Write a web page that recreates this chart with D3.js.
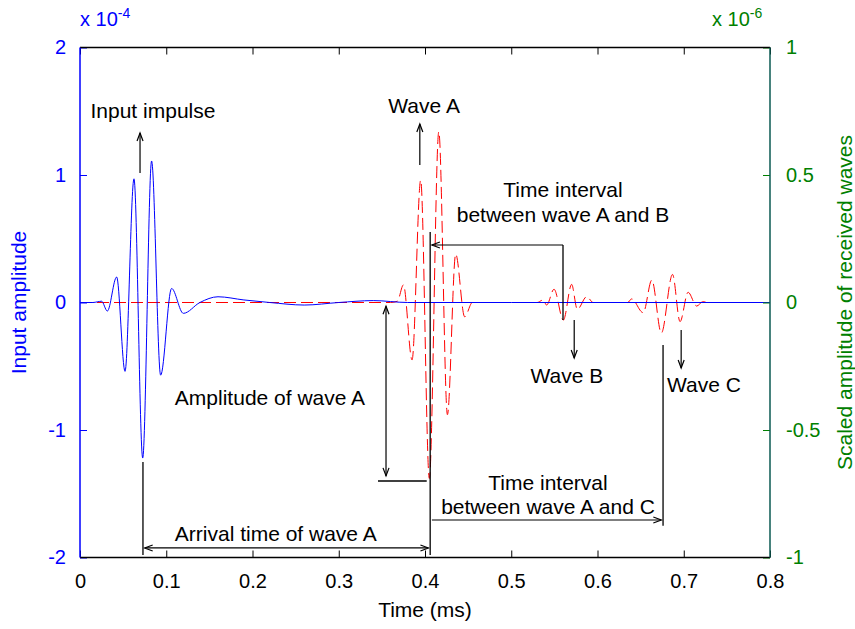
<!DOCTYPE html>
<html>
<head>
<meta charset="utf-8">
<script src="https://cdn.jsdelivr.net/npm/d3@7"></script>
<style>
  body { margin: 0; background: #fff; }
  text { font-family: "Liberation Sans", Arial, sans-serif; }
</style>
</head>
<body>
<div id="chart"></div>
<script>
// input impulse (x 1e-4)
var inputTime = [0, 0.015, 0.020, 0.025, 0.0317, 0.0425, 0.0522, 0.0626, 0.0727, 0.083, 0.0935, 0.1062, 0.1198, 0.139, 0.16, 0.19, 0.22, 0.26, 0.30, 0.34, 0.38, 0.5, 0.8];
var inputAmp  = [0, 0, 0.005, 0.01, -0.067, 0.20, -0.54, 0.97, -1.22, 1.11, -0.57, 0.11, -0.085, 0.0, 0.045, 0.02, 0.0, -0.02, 0.0, 0.015, 0.0, 0, 0];

// received waves (x 1e-6)
var recvTime = [0, 0.36, 0.368, 0.375, 0.385, 0.395, 0.405, 0.416, 0.426, 0.4356, 0.446, 0.455, 0.53, 0.537, 0.541, 0.5496, 0.5604, 0.570, 0.5766, 0.5875, 0.595, 0.635, 0.6395, 0.653, 0.663, 0.674, 0.687, 0.6957, 0.705, 0.715, 0.722, 0.73, 0.8];
var recvAmp  = [0, 0, 0.005, 0.069, -0.225, 0.48, -0.69, 0.67, -0.44, 0.19, -0.056, 0.0, 0, 0.01, -0.01, 0.052, -0.069, 0.071, -0.027, 0.023, 0, 0, 0.014, -0.04, 0.088, -0.12, 0.11, -0.075, 0.04, -0.014, 0.003, 0, 0];

var xTicks = [0, 0.1, 0.2, 0.3, 0.4, 0.5, 0.6, 0.7, 0.8];
var leftTicks = [-2, -1, 0, 1, 2];
var rightTicks = [-1, -0.5, 0, 0.5, 1];

// annotations in (time, left-axis) units
var arrowLines = [
  {x1: 0.0696, y1: 1.016, x2: 0.0696, y2: 1.33, both: false},
  {x1: 0.394, y1: 1.078, x2: 0.394, y2: 1.40, both: false},
  {x1: 0.560, y1: 0.451, x2: 0.408, y2: 0.451, both: false},
  {x1: 0.573, y1: -0.137, x2: 0.573, y2: -0.435, both: false},
  {x1: 0.697, y1: -0.216, x2: 0.697, y2: -0.514, both: false},
  {x1: 0.3548, y1: -0.03, x2: 0.3548, y2: -1.36, both: true},
  {x1: 0.075, y1: -1.925, x2: 0.404, y2: -1.925, both: true},
  {x1: 0.408, y1: -1.706, x2: 0.674, y2: -1.706, both: false}
];
var plainLines = [
  {x1: 0.073, y1: -1.25, x2: 0.073, y2: -1.98},
  {x1: 0.406, y1: 0.553, x2: 0.406, y2: -1.98},
  {x1: 0.676, y1: -0.333, x2: 0.676, y2: -1.75},
  {x1: 0.560, y1: 0.451, x2: 0.560, y2: -0.137},
  {x1: 0.3455, y1: -1.40, x2: 0.402, y2: -1.40}
];
var notes = [
  {t: 0.0846, v: 1.447, s: "Input impulse"},
  {t: 0.399, v: 1.486, s: "Wave A"},
  {t: 0.560, v: 0.827, s: "Time interval"},
  {t: 0.560, v: 0.631, s: "between wave A and B"},
  {t: 0.5646, v: -0.631, s: "Wave B"},
  {t: 0.7235, v: -0.702, s: "Wave C"},
  {t: 0.2203, v: -0.804, s: "Amplitude of wave A"},
  {t: 0.227, v: -1.871, s: "Arrival time of wave A"},
  {t: 0.5426, v: -1.47, s: "Time interval"},
  {t: 0.5426, v: -1.659, s: "between wave A and C"}
];

var W = 855, H = 629;
var pLeft = 80, pRight = 770, pTop = 47.5, pBottom = 557.5;
var blue = "#0000ff", green = "#008000", red = "#ff0000";
var fs = 21;

var svg = d3.select("#chart").append("svg")
  .attr("width", W).attr("height", H);

var x = d3.scaleLinear().domain([0, 0.8]).range([pLeft, pRight]);
var yL = d3.scaleLinear().domain([-2, 2]).range([pBottom, pTop]);
var yR = d3.scaleLinear().domain([-1, 1]).range([pBottom, pTop]);

var plain = function(d) { return String(d); };

svg.append("defs").append("marker")
  .attr("id", "arr")
  .attr("viewBox", "-10 -5 12 10")
  .attr("refX", 0).attr("refY", 0)
  .attr("markerWidth", 12).attr("markerHeight", 10)
  .attr("markerUnits", "userSpaceOnUse")
  .attr("orient", "auto-start-reverse")
  .append("path")
  .attr("d", "M-8,-3L0,0L-8,3")
  .attr("fill", "none").attr("stroke", "#000").attr("stroke-width", 1.2);

// received waves, dashed red
var recv = recvTime.map(function(t, i) { return [t, recvAmp[i]]; });
svg.append("path")
  .datum(recv)
  .attr("fill", "none")
  .attr("stroke", red)
  .attr("stroke-width", 1)
  .attr("stroke-dasharray", "12,5")
  .attr("d", d3.line().x(function(d) { return x(d[0]); }).y(function(d) { return yR(d[1]); }).curve(d3.curveMonotoneX));

// input impulse, solid blue
var inp = inputTime.map(function(t, i) { return [t, inputAmp[i]]; });
svg.append("path")
  .datum(inp)
  .attr("fill", "none")
  .attr("stroke", blue)
  .attr("stroke-width", 1)
  .attr("d", d3.line().x(function(d) { return x(d[0]); }).y(function(d) { return yL(d[1]); }).curve(d3.curveMonotoneX));

// annotation lines
svg.selectAll(".pl").data(plainLines).enter().append("line")
  .attr("x1", function(d) { return x(d.x1); }).attr("y1", function(d) { return yL(d.y1); })
  .attr("x2", function(d) { return x(d.x2); }).attr("y2", function(d) { return yL(d.y2); })
  .attr("stroke", "#000").attr("stroke-width", 1.3);

svg.selectAll(".al").data(arrowLines).enter().append("line")
  .attr("x1", function(d) { return x(d.x1); }).attr("y1", function(d) { return yL(d.y1); })
  .attr("x2", function(d) { return x(d.x2); }).attr("y2", function(d) { return yL(d.y2); })
  .attr("stroke", "#000").attr("stroke-width", 1.2)
  .attr("marker-end", "url(#arr)")
  .attr("marker-start", function(d) { return d.both ? "url(#arr)" : null; });

svg.selectAll(".note").data(notes).enter().append("text")
  .attr("x", function(d) { return x(d.t); })
  .attr("y", function(d) { return yL(d.v); })
  .attr("text-anchor", "middle")
  .attr("font-size", fs)
  .attr("fill", "#000")
  .text(function(d) { return d.s; });

// axes
var tk = 7;
var gx = svg.append("g").attr("transform", "translate(0," + pBottom + ")")
  .call(d3.axisBottom(x).tickValues(xTicks).tickSize(-tk).tickPadding(16).tickFormat(plain));
gx.select(".domain").remove();
gx.selectAll("line").attr("stroke", "#000");
gx.selectAll("text").attr("font-size", 20).attr("fill", "#000").attr("font-family", "Liberation Sans, Arial, sans-serif");

var gxt = svg.append("g").attr("transform", "translate(0," + pTop + ")")
  .call(d3.axisTop(x).tickValues(xTicks).tickSize(-tk).tickFormat(""));
gxt.select(".domain").remove();
gxt.selectAll("line").attr("stroke", "#000");

var gl = svg.append("g").attr("transform", "translate(" + pLeft + ",0)")
  .call(d3.axisLeft(yL).tickValues(leftTicks).tickSize(-tk).tickPadding(14).tickFormat(plain));
gl.select(".domain").remove();
gl.selectAll("line").attr("stroke", blue);
gl.selectAll("text").attr("font-size", 20).attr("fill", blue).attr("font-family", "Liberation Sans, Arial, sans-serif");

var gr = svg.append("g").attr("transform", "translate(" + pRight + ",0)")
  .call(d3.axisRight(yR).tickValues(rightTicks).tickSize(-tk).tickPadding(16).tickFormat(plain));
gr.select(".domain").remove();
gr.selectAll("line").attr("stroke", green);
gr.selectAll("text").attr("font-size", 20).attr("fill", green).attr("font-family", "Liberation Sans, Arial, sans-serif");

// frame
svg.append("line").attr("x1", pLeft).attr("x2", pRight).attr("y1", pTop).attr("y2", pTop).attr("stroke", "#000").attr("stroke-width", 1.5);
svg.append("line").attr("x1", pLeft).attr("x2", pRight).attr("y1", pBottom).attr("y2", pBottom).attr("stroke", "#000").attr("stroke-width", 1.5);
svg.append("line").attr("x1", pLeft).attr("x2", pLeft).attr("y1", pTop).attr("y2", pBottom).attr("stroke", blue).attr("stroke-width", 1.5);
svg.append("line").attr("x1", pRight).attr("x2", pRight).attr("y1", pTop).attr("y2", pBottom).attr("stroke", "#0b5a52").attr("stroke-width", 1.5);

// exponent labels
var e1 = svg.append("text").attr("x", 80).attr("y", 26).attr("font-size", 20).attr("fill", blue);
e1.append("tspan").text("x 10");
e1.append("tspan").attr("dy", -8).attr("font-size", 14).text("-4");
var e2 = svg.append("text").attr("x", 712).attr("y", 26).attr("font-size", 20).attr("fill", green);
e2.append("tspan").text("x 10");
e2.append("tspan").attr("dy", -8).attr("font-size", 14).text("-6");

// axis titles
svg.append("text").attr("x", (pLeft + pRight) / 2).attr("y", 617)
  .attr("text-anchor", "middle").attr("font-size", fs).attr("fill", "#000").text("Time (ms)");
svg.append("text").attr("transform", "translate(26," + ((pTop + pBottom) / 2) + ") rotate(-90)")
  .attr("text-anchor", "middle").attr("font-size", fs).attr("fill", blue).text("Input amplitude");
svg.append("text").attr("transform", "translate(852," + ((pTop + pBottom) / 2) + ") rotate(-90)")
  .attr("text-anchor", "middle").attr("font-size", fs).attr("fill", green).text("Scaled amplitude of received waves");
</script>
</body>
</html>
